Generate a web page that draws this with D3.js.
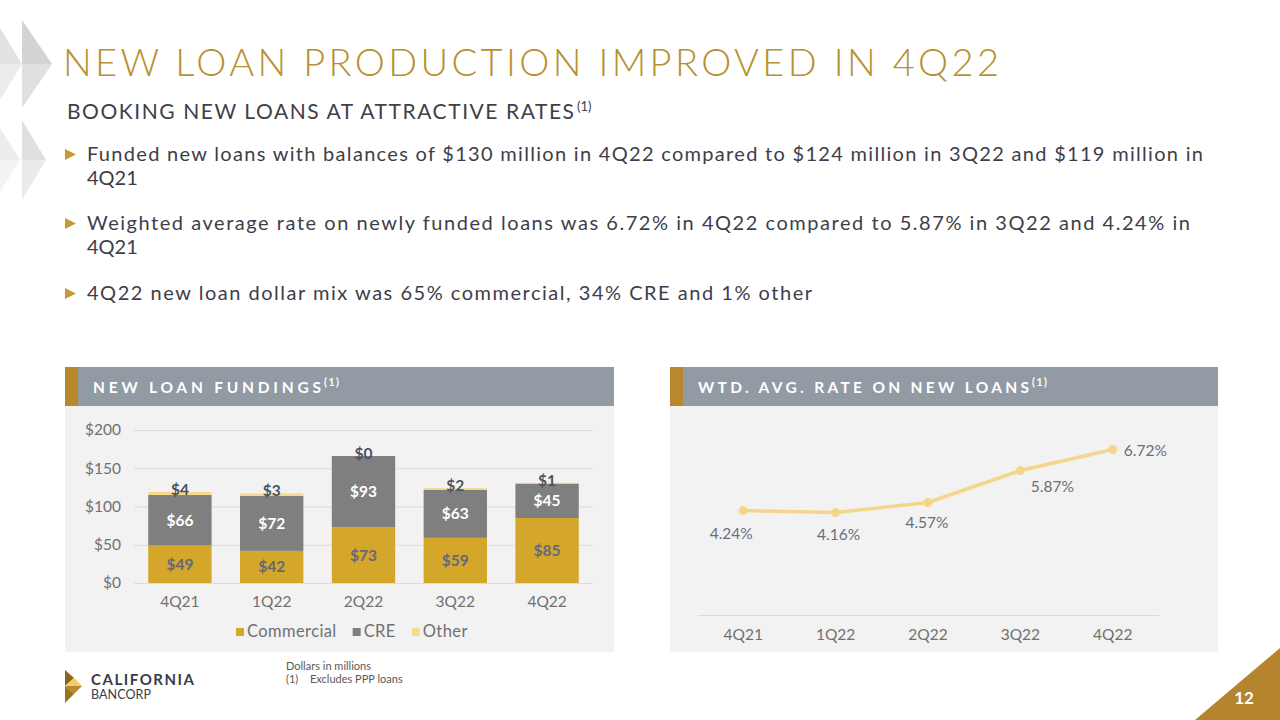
<!DOCTYPE html>
<html>
<head>
<meta charset="utf-8">
<script src="https://cdn.jsdelivr.net/npm/d3@7"></script>
<style>
  html, body { margin: 0; padding: 0; background: #ffffff; }
  svg { display: block; font-family: Lato, "Open Sans", sans-serif; }
</style>
</head>
<body>
<svg id="chart" width="1280" height="720"></svg>
<script>
// ---------- DATA ----------
const quarters = ["4Q21", "1Q22", "2Q22", "3Q22", "4Q22"];
const commercial = [49, 42, 73, 59, 85];
const cre = [66, 72, 93, 63, 45];
const other = [4, 3, 0, 2, 1];
const rates = [4.24, 4.16, 4.57, 5.87, 6.72];
const rateLabels = ["4.24%", "4.16%", "4.57%", "5.87%", "6.72%"];
const fundingTicks = [0, 50, 100, 150, 200];
const seriesNames = ["Commercial", "CRE", "Other"];

const titleText = "NEW LOAN PRODUCTION IMPROVED IN 4Q22";
const subtitleText = "BOOKING NEW LOANS AT ATTRACTIVE RATES";
const bullets = [
  ["Funded new loans with balances of $130 million in 4Q22 compared to $124 million in 3Q22 and $119 million in", "4Q21"],
  ["Weighted average rate on newly funded loans was 6.72% in 4Q22 compared to 5.87% in 3Q22 and 4.24% in", "4Q21"],
  ["4Q22 new loan dollar mix was 65% commercial, 34% CRE and 1% other"]
];

// ---------- STYLE ----------
const C = {
  gold: "#B8902E",
  text: "#3E3E4A",
  header: "#929AA4",
  stripe: "#B8892C",
  panel: "#F2F2F2",
  commercial: "#D4A62A",
  cre: "#7F7F7F",
  other: "#F7D98B",
  tick: "#707070",
  grid: "#DCDCDC",
  line: "#F4D68A",
  rateLabel: "#6B6E7A"
};
const colorOf = { Commercial: C.commercial, CRE: C.cre, Other: C.other };

const svg = d3.select("#chart");
svg.append("rect").attr("width", 1280).attr("height", 720).attr("fill", "#fff");

// ---------- DECORATION (top-left facets) ----------
const deco = svg.append("g");
[
  { p: [[22, 20], [52, 64], [22, 64]], f: "#D3D3D3" },
  { p: [[22, 64], [52, 64], [22, 108]], f: "#E0E0E0" },
  { p: [[0, 28], [22, 64], [0, 64]], f: "#E2E2E2" },
  { p: [[0, 64], [22, 64], [0, 100]], f: "#ECECEC" },
  { p: [[22, 120], [46, 160], [22, 160]], f: "#E0E0E0" },
  { p: [[22, 160], [46, 160], [22, 200]], f: "#EBEBEB" },
  { p: [[0, 128], [20, 160], [0, 160]], f: "#EDEDED" },
  { p: [[0, 160], [20, 160], [0, 192]], f: "#F3F3F3" }
].forEach(t => deco.append("polygon").attr("points", t.p.map(d => d.join(",")).join(" ")).attr("fill", t.f));

// ---------- TITLE ----------
svg.append("text").attr("x", 63).attr("y", 76)
  .attr("font-size", 38).attr("fill", C.gold).attr("font-weight", 300)
  .attr("textLength", 936).attr("lengthAdjust", "spacing")
  .text(titleText);

svg.append("text").attr("x", 67).attr("y", 119)
  .attr("font-size", 21).attr("fill", "#404047")
  .attr("textLength", 507).attr("lengthAdjust", "spacing")
  .text(subtitleText);
svg.append("text").attr("x", 577).attr("y", 111)
  .attr("font-size", 13).attr("fill", "#404047").text("(1)");

// ---------- BULLETS ----------
const bulletY = [161, 230, 300];
const bulletW = [1116, 1103, 725];
bullets.forEach((lines, i) => {
  const y0 = bulletY[i];
  svg.append("polygon")
    .attr("points", `65,${y0 - 12} 76,${y0 - 6.5} 65,${y0 - 1}`)
    .attr("fill", "#C39A33");
  lines.forEach((ln, j) => {
    const t = svg.append("text").attr("x", 87).attr("y", y0 + j * 24)
      .attr("font-size", 20).attr("fill", C.text).text(ln);
    if (j === 0) t.attr("textLength", bulletW[i]).attr("lengthAdjust", "spacing");
  });
});

// ---------- PANELS ----------
function panel(x0, x1, title, titleW) {
  svg.append("rect").attr("x", x0).attr("y", 406).attr("width", x1 - x0).attr("height", 246).attr("fill", C.panel);
  svg.append("rect").attr("x", x0).attr("y", 367).attr("width", x1 - x0).attr("height", 39).attr("fill", C.header);
  svg.append("rect").attr("x", x0).attr("y", 367).attr("width", 13).attr("height", 39).attr("fill", C.stripe);
  svg.append("text").attr("x", x0 + 28).attr("y", 393)
    .attr("font-size", 15.5).attr("font-weight", 700).attr("fill", "#fff")
    .attr("textLength", titleW).attr("lengthAdjust", "spacing").text(title);
  svg.append("text").attr("x", x0 + 28 + titleW + 3).attr("y", 386)
    .attr("font-size", 10.5).attr("font-weight", 700).attr("fill", "#fff")
    .attr("letter-spacing", 1.5).text("(1)");
}
panel(65, 614, "NEW LOAN FUNDINGS", 228);
panel(670, 1218, "WTD. AVG. RATE ON NEW LOANS", 331);

// ---------- LEFT CHART: stacked bars ----------
const x = d3.scaleBand().domain(quarters).range([134, 593]).paddingInner(0.31).paddingOuter(0.155);
const y = d3.scaleLinear().domain([0, 200]).range([583, 430]);

const rows = quarters.map((q, i) => ({ q, Commercial: commercial[i], CRE: cre[i], Other: other[i] }));
const stacked = d3.stack().keys(seriesNames)(rows);

const yAxis = svg.append("g").attr("transform", "translate(134,0)")
  .call(d3.axisLeft(y).tickValues(fundingTicks).tickFormat(d => "$" + d)
    .tickSize(-(593 - 134)).tickPadding(13));
yAxis.select(".domain").remove();
yAxis.selectAll("line").attr("stroke", C.grid).attr("stroke-width", 1);
yAxis.selectAll("text").attr("font-size", 15.5).attr("fill", C.tick).attr("font-family", "Lato, sans-serif");

const xAxis = svg.append("g").attr("transform", "translate(0,583)")
  .call(d3.axisBottom(x).tickSize(0).tickPadding(13));
xAxis.select(".domain").remove();
xAxis.selectAll("text").attr("font-size", 15.5).attr("fill", C.tick).attr("font-family", "Lato, sans-serif");

const bars = svg.append("g");
stacked.forEach(s => {
  bars.selectAll(null).data(s).enter().append("rect")
    .attr("x", d => x(d.data.q))
    .attr("width", x.bandwidth())
    .attr("y", d => y(d[1]))
    .attr("height", d => y(d[0]) - y(d[1]))
    .attr("fill", colorOf[s.key]);
});

const labels = svg.append("g").attr("font-weight", 700).attr("font-size", 15.5).attr("text-anchor", "middle");
stacked.forEach(s => {
  labels.selectAll(null).data(s).enter().append("text")
    .attr("x", d => x(d.data.q) + x.bandwidth() / 2)
    .attr("y", d => s.key === "Other" ? y(d[1]) + 3 : (y(d[0]) + y(d[1])) / 2 + 5.5)
    .attr("fill", s.key === "CRE" ? "#ffffff" : (s.key === "Other" ? "#4C5262" : "#666878"))
    .text(d => "$" + (d[1] - d[0]));
});

// legend
const legend = svg.append("g");
let lx = 236;
seriesNames.forEach(name => {
  legend.append("rect").attr("x", lx).attr("y", 628).attr("width", 8).attr("height", 8).attr("fill", colorOf[name]);
  const t = legend.append("text").attr("x", lx + 11).attr("y", 637)
    .attr("font-size", 16.5).attr("letter-spacing", 0.4).attr("fill", C.tick).text(name);
  lx += 11 + t.node().getComputedTextLength() + 16;
});

// ---------- RIGHT CHART: line ----------
const x2 = d3.scaleBand().domain(quarters).range([697, 1159]);
const y2 = d3.scaleLinear().domain([0, 8]).range([615, 418]);

const xAxis2 = svg.append("g").attr("transform", "translate(0,615)")
  .call(d3.axisBottom(x2).tickSize(0).tickSizeOuter(0).tickPadding(14));
xAxis2.select(".domain").attr("stroke", C.grid);
xAxis2.selectAll("text").attr("font-size", 15.5).attr("fill", C.tick).attr("font-family", "Lato, sans-serif");

const pts = quarters.map((q, i) => ({ q, v: rates[i], label: rateLabels[i] }));
const cx = d => x2(d.q) + x2.bandwidth() / 2;

svg.append("path").datum(pts)
  .attr("d", d3.line().x(cx).y(d => y2(d.v)))
  .attr("fill", "none").attr("stroke", C.line).attr("stroke-width", 3.5);

svg.append("g").selectAll("circle").data(pts).enter().append("circle")
  .attr("cx", cx).attr("cy", d => y2(d.v)).attr("r", 4.5).attr("fill", C.line);

// label placement offsets (dx, dy, anchor) relative to each point
const labelOffsets = [[-12, 28, "middle"], [3, 27, "middle"], [-1, 26, "middle"], [32, 22, "middle"], [11, 6, "start"]];
svg.append("g").selectAll("text").data(pts).enter().append("text")
  .attr("x", (d, i) => cx(d) + labelOffsets[i][0])
  .attr("y", (d, i) => y2(d.v) + labelOffsets[i][1])
  .attr("text-anchor", (d, i) => labelOffsets[i][2])
  .attr("font-size", 15.5).attr("fill", C.rateLabel)
  .text(d => d.label);

// ---------- FOOTER ----------
const logo = svg.append("g");
[
  { p: [[65, 670], [74, 678], [65, 686]], f: "#8A6418" },
  { p: [[65, 670], [82, 686], [74, 678]], f: "#D8AE45" },
  { p: [[74, 678], [82, 686], [65, 686]], f: "#F0CF6A" },
  { p: [[65, 686], [82, 686], [74, 694]], f: "#B8892C" },
  { p: [[65, 686], [74, 694], [65, 703]], f: "#9C7420" },
  { p: [[74, 694], [82, 686], [65, 703]], f: "#C99A35" }
].forEach(t => logo.append("polygon").attr("points", t.p.map(d => d.join(",")).join(" ")).attr("fill", t.f));
svg.append("text").attr("x", 91).attr("y", 685).attr("font-size", 15).attr("font-weight", 700)
  .attr("fill", "#3A3D48").attr("textLength", 103).attr("lengthAdjust", "spacing").text("CALIFORNIA");
svg.append("text").attr("x", 91).attr("y", 699).attr("font-size", 12.5).attr("font-weight", 400)
  .attr("fill", "#3A3D48").attr("textLength", 60).attr("lengthAdjust", "spacing").text("BANCORP");

svg.append("text").attr("x", 286).attr("y", 670).attr("font-size", 11).attr("fill", "#595959").text("Dollars in millions");
svg.append("text").attr("x", 286).attr("y", 683).attr("font-size", 11).attr("fill", "#595959").text("(1)");
svg.append("text").attr("x", 310).attr("y", 683).attr("font-size", 11).attr("fill", "#595959").text("Excludes PPP loans");

svg.append("polygon").attr("points", "1280,648 1280,720 1195,720").attr("fill", "#B5842F");
svg.append("text").attr("x", 1244).attr("y", 704).attr("text-anchor", "middle")
  .attr("font-size", 17).attr("font-weight", 700).attr("fill", "#fff").text("12");
</script>
</body>
</html>
